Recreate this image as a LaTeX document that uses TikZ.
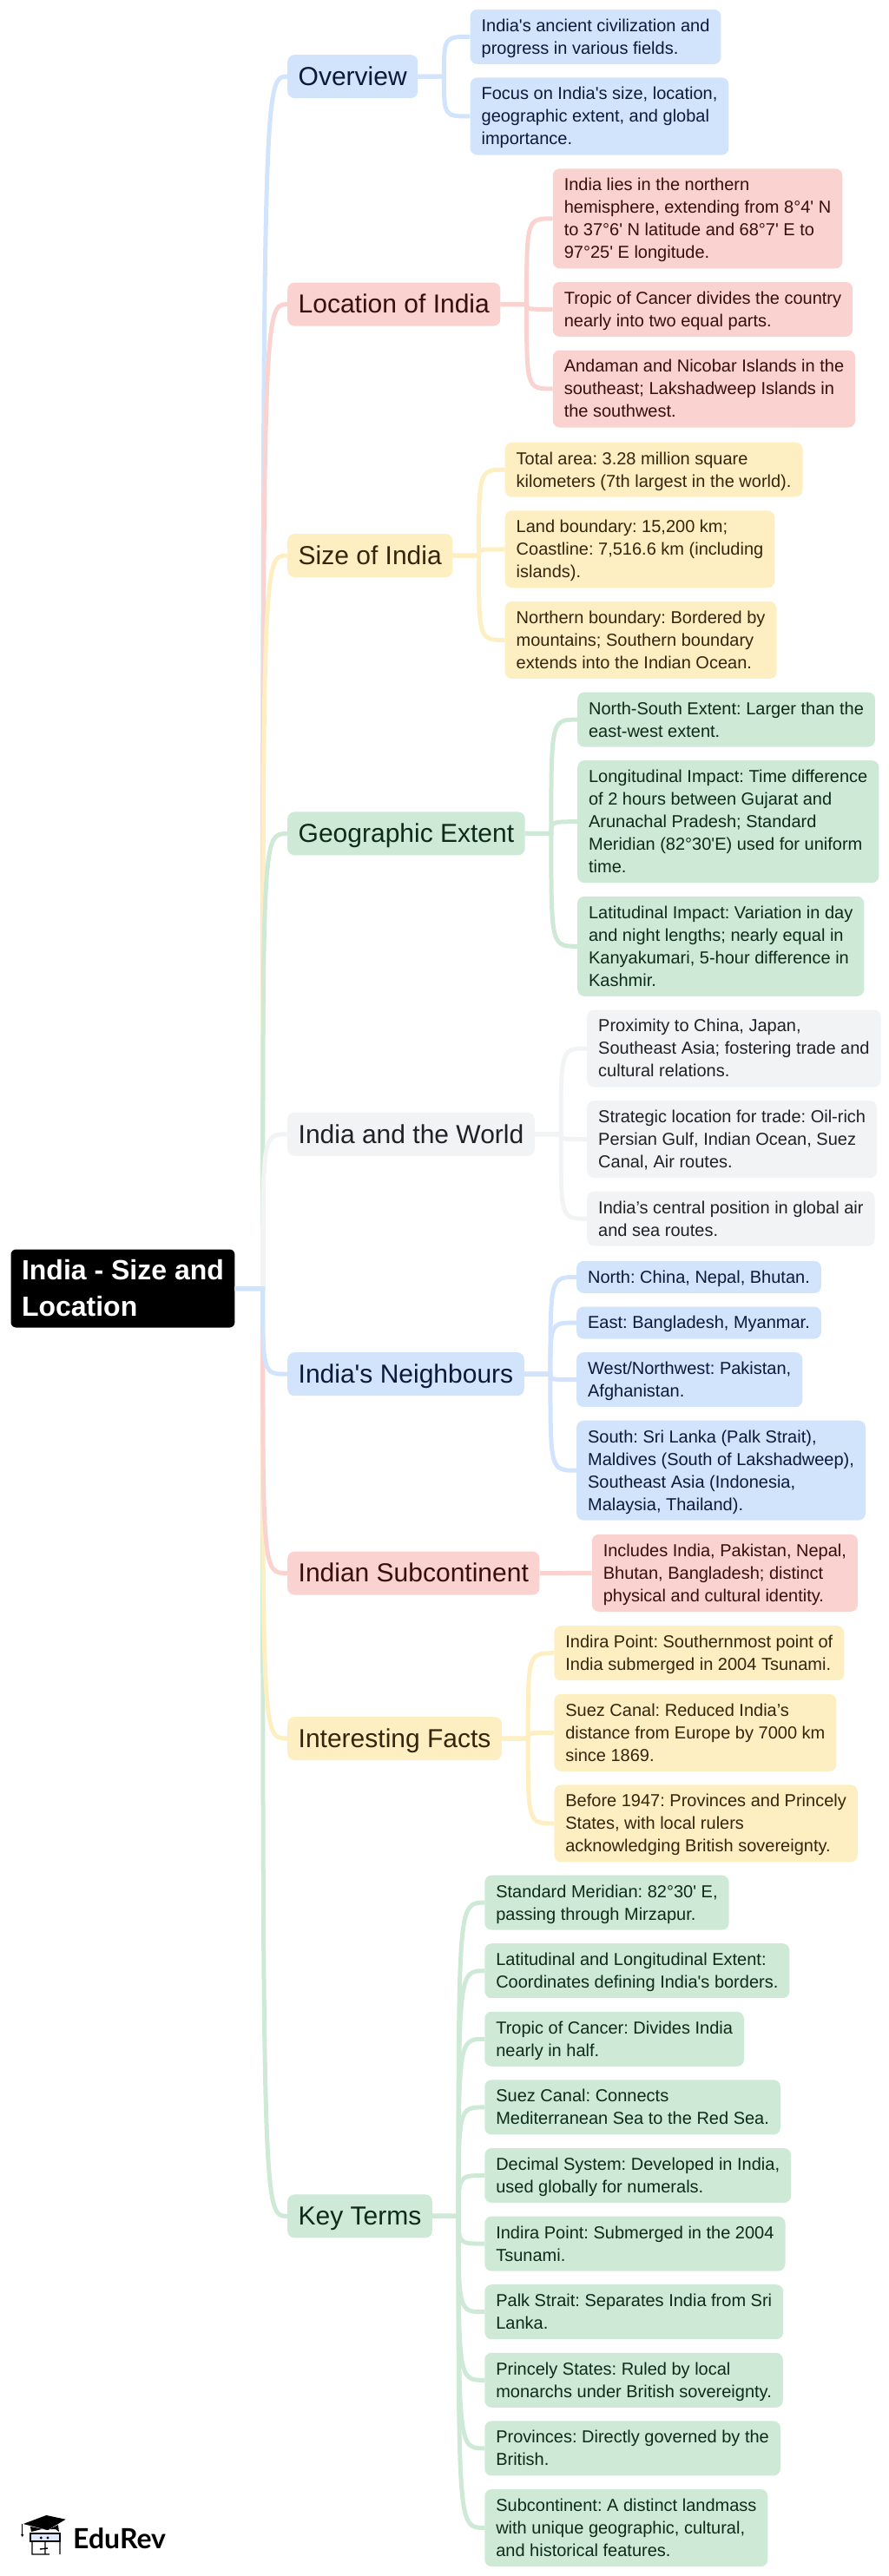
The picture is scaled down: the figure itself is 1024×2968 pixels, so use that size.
\documentclass[tikz,border=0pt]{standalone}
\usepackage{fontspec}
\setmainfont{Liberation Sans}[Ligatures=TeXOff]
\newfontfamily\logofont{Lato}
\usetikzlibrary{positioning}
\definecolor{mapblue}{HTML}{D2E3FC}
\definecolor{mapred}{HTML}{FAD2CF}
\definecolor{mapyellow}{HTML}{FEEFC3}
\definecolor{mapgreen}{HTML}{CEEAD6}
\definecolor{mapgrey}{HTML}{F1F3F4}
\definecolor{mapbluetext}{HTML}{0A1A3A}
\definecolor{mapredtext}{HTML}{3A0F0B}
\definecolor{mapyellowtext}{HTML}{33260A}
\definecolor{mapgreentext}{HTML}{0D2B18}
\definecolor{mapgreytext}{HTML}{202124}
\newcommand{\mapstrut}{\vrule height .766\baselineskip depth .234\baselineskip width 0pt}
\newcommand{\ml}[1]{\mapstrut#1\mapstrut}
\tikzset{
    x=1pt,
    y=1pt,
    mapbox/.style={
        rounded corners=8pt,
        align=left,
        inner xsep=13pt,
        inner ysep=5.5pt,
    },
    maproot/.style={
        mapbox,
        rounded corners=6pt,
        fill=black,
        text=white,
        inner xsep=12.5pt,
        inner ysep=3.4pt,
        font=\fontsize{32}{41.6}\selectfont\bfseries,
    },
    maptopic/.style={
        mapbox,
        fill=#1,
        text=#1text,
        inner xsep=12.5pt,
        font=\fontsize{30}{39}\selectfont,
    },
    mapleaf/.style={
        mapbox,
        fill=#1,
        text=#1text,
        font=\fontsize{20}{26}\selectfont\frenchspacing,
    },
    maplink/.style={
        line width=5pt,
        to path={(\tikztostart.east) -- ++(#1,0) coordinate (mid)
            .. controls (mid |- \tikztotarget.west) .. (\tikztotarget.west)},
    },
    maplink/.default=30pt,
}

\begin{document}
\begin{tikzpicture}
    \useasboundingbox (0,0) rectangle (1024,-2968);

    \node[maproot, anchor=north west] (root) at (12.3,-1439.3) {\ml{India - Size and\\Location}};

    \node[maptopic=mapblue, anchor=north west] (overview) at (331,-63) {\ml{Overview}};
    \node[maptopic=mapred, below=212pt of overview.south west, anchor=north west] (location) {\ml{Location of India}};
    \node[maptopic=mapyellow, below=239pt of location.south west, anchor=north west] (sizeindia) {\ml{Size of India}};
    \node[maptopic=mapgreen, below=270pt of sizeindia.south west, anchor=north west] (extent) {\ml{Geographic Extent}};
    \node[maptopic=mapgrey, below=296pt of extent.south west, anchor=north west] (world) {\ml{India and the World}};
    \node[maptopic=mapblue, below=226pt of world.south west, anchor=north west] (neighbours) {\ml{India's Neighbours}};
    \node[maptopic=mapred, below=179pt of neighbours.south west, anchor=north west] (subcontinent) {\ml{Indian Subcontinent}};
    \node[maptopic=mapyellow, below=140pt of subcontinent.south west, anchor=north west] (facts) {\ml{Interesting Facts}};
    \node[maptopic=mapgreen, below=500pt of facts.south west, anchor=north west] (keyterms) {\ml{Key Terms}};

    \node[mapleaf=mapblue, right=60pt of overview.east, anchor=north west, yshift=77.5pt] (ov1) {\ml{India's ancient civilization and\\progress in various fields.}};
    \node[mapleaf=mapblue, below=15.2pt of ov1.south west, anchor=north west] (ov2) {\ml{Focus on India's size, location,\\geographic extent, and global\\importance.}};

    \node[mapleaf=mapred, right=60pt of location.east, anchor=north west, yshift=156.5pt] (lo1) {\ml{India lies in the northern\\hemisphere, extending from 8°4' N\\to 37°6' N latitude and 68°7' E to\\97°25' E longitude.}};
    \node[mapleaf=mapred, below=15.2pt of lo1.south west, anchor=north west] (lo2) {\ml{Tropic of Cancer divides the country\\nearly into two equal parts.}};
    \node[mapleaf=mapred, below=15.2pt of lo2.south west, anchor=north west] (lo3) {\ml{Andaman and Nicobar Islands in the\\southeast; Lakshadweep Islands in\\the southwest.}};

    \node[mapleaf=mapyellow, right=60pt of sizeindia.east, anchor=north west, yshift=130.5pt] (si1) {\ml{Total area: 3.28 million square\\kilometers (7th largest in the world).}};
    \node[mapleaf=mapyellow, below=15.2pt of si1.south west, anchor=north west] (si2) {\ml{Land boundary: 15,200 km;\\Coastline: 7,516.6 km (including\\islands).}};
    \node[mapleaf=mapyellow, below=15.2pt of si2.south west, anchor=north west] (si3) {\ml{Northern boundary: Bordered by\\mountains; Southern boundary\\extends into the Indian Ocean.}};

    \node[mapleaf=mapgreen, right=60pt of extent.east, anchor=north west, yshift=163pt] (ex1) {\ml{North-South Extent: Larger than the\\east-west extent.}};
    \node[mapleaf=mapgreen, below=15.2pt of ex1.south west, anchor=north west] (ex2) {\ml{Longitudinal Impact: Time difference\\of 2 hours between Gujarat and\\Arunachal Pradesh; Standard\\Meridian (82°30'E) used for uniform\\time.}};
    \node[mapleaf=mapgreen, below=15.2pt of ex2.south west, anchor=north west] (ex3) {\ml{Latitudinal Impact: Variation in day\\and night lengths; nearly equal in\\Kanyakumari, 5-hour difference in\\Kashmir.}};

    \node[mapleaf=mapgrey, right=60pt of world.east, anchor=north west, yshift=143.5pt] (wo1) {\ml{Proximity to China, Japan,\\Southeast Asia; fostering trade and\\cultural relations.}};
    \node[mapleaf=mapgrey, below=15.2pt of wo1.south west, anchor=north west] (wo2) {\ml{Strategic location for trade: Oil-rich\\Persian Gulf, Indian Ocean, Suez\\Canal, Air routes.}};
    \node[mapleaf=mapgrey, below=15.2pt of wo2.south west, anchor=north west] (wo3) {\ml{India’s central position in global air\\and sea routes.}};

    \node[mapleaf=mapblue, right=60pt of neighbours.east, anchor=north west, yshift=130.5pt] (ne1) {\ml{North: China, Nepal, Bhutan.}};
    \node[mapleaf=mapblue, below=15.2pt of ne1.south west, anchor=north west] (ne2) {\ml{East: Bangladesh, Myanmar.}};
    \node[mapleaf=mapblue, below=15.2pt of ne2.south west, anchor=north west] (ne3) {\ml{West/Northwest: Pakistan,\\Afghanistan.}};
    \node[mapleaf=mapblue, below=15.2pt of ne3.south west, anchor=north west] (ne4) {\ml{South: Sri Lanka (Palk Strait),\\Maldives (South of Lakshadweep),\\Southeast Asia (Indonesia,\\Malaysia, Thailand).}};

    \node[mapleaf=mapred, right=60pt of subcontinent.east, anchor=north west, yshift=45pt] (su1) {\ml{Includes India, Pakistan, Nepal,\\Bhutan, Bangladesh; distinct\\physical and cultural identity.}};

    \node[mapleaf=mapyellow, right=60pt of facts.east, anchor=north west, yshift=130pt] (fa1) {\ml{Indira Point: Southernmost point of\\India submerged in 2004 Tsunami.}};
    \node[mapleaf=mapyellow, below=15.2pt of fa1.south west, anchor=north west] (fa2) {\ml{Suez Canal: Reduced India’s\\distance from Europe by 7000 km\\since 1869.}};
    \node[mapleaf=mapyellow, below=15.2pt of fa2.south west, anchor=north west] (fa3) {\ml{Before 1947: Provinces and Princely\\States, with local rulers\\acknowledging British sovereignty.}};

    \node[mapleaf=mapgreen, right=60pt of keyterms.east, anchor=north west, yshift=393pt] (ke1) {\ml{Standard Meridian: 82°30' E,\\passing through Mirzapur.}};
    \node[mapleaf=mapgreen, below=15.2pt of ke1.south west, anchor=north west] (ke2) {\ml{Latitudinal and Longitudinal Extent:\\Coordinates defining India's borders.}};
    \node[mapleaf=mapgreen, below=15.2pt of ke2.south west, anchor=north west] (ke3) {\ml{Tropic of Cancer: Divides India\\nearly in half.}};
    \node[mapleaf=mapgreen, below=15.2pt of ke3.south west, anchor=north west] (ke4) {\ml{Suez Canal: Connects\\Mediterranean Sea to the Red Sea.}};
    \node[mapleaf=mapgreen, below=15.2pt of ke4.south west, anchor=north west] (ke5) {\ml{Decimal System: Developed in India,\\used globally for numerals.}};
    \node[mapleaf=mapgreen, below=15.2pt of ke5.south west, anchor=north west] (ke6) {\ml{Indira Point: Submerged in the 2004\\Tsunami.}};
    \node[mapleaf=mapgreen, below=15.2pt of ke6.south west, anchor=north west] (ke7) {\ml{Palk Strait: Separates India from Sri\\Lanka.}};
    \node[mapleaf=mapgreen, below=15.2pt of ke7.south west, anchor=north west] (ke8) {\ml{Princely States: Ruled by local\\monarchs under British sovereignty.}};
    \node[mapleaf=mapgreen, below=15.2pt of ke8.south west, anchor=north west] (ke9) {\ml{Provinces: Directly governed by the\\British.}};
    \node[mapleaf=mapgreen, below=15.2pt of ke9.south west, anchor=north west] (ke10) {\ml{Subcontinent: A distinct landmass\\with unique geographic, cultural,\\and historical features.}};

    \path[maplink=32pt, mapblue] (root) edge (overview);
    \path[maplink=32pt, mapred] (root) edge (location);
    \path[maplink=32pt, mapyellow] (root) edge (sizeindia);
    \path[maplink=32pt, mapgreen] (root) edge (extent);
    \path[maplink=32pt, mapgrey] (root) edge (world);
    \path[maplink=32pt, mapgreen] (root) edge (keyterms);
    \path[maplink=32pt, mapyellow] (root) edge (facts);
    \path[maplink=32pt, mapred] (root) edge (subcontinent);
    \path[maplink=32pt, mapblue] (root) edge (neighbours);

    \path[maplink, mapblue]
        (overview) edge (ov1)
            edge (ov2)
        (neighbours) edge (ne1)
            edge (ne2)
            edge (ne3)
            edge (ne4);
    \path[maplink, mapred]
        (location) edge (lo1)
            edge (lo2)
            edge (lo3)
        (subcontinent) edge (su1);
    \path[maplink, mapyellow]
        (sizeindia) edge (si1)
            edge (si2)
            edge (si3)
        (facts) edge (fa1)
            edge (fa2)
            edge (fa3);
    \path[maplink, mapgreen]
        (extent) edge (ex1)
            edge (ex2)
            edge (ex3)
        (keyterms) edge (ke1)
            edge (ke2)
            edge (ke3)
            edge (ke4)
            edge (ke5)
            edge (ke6)
            edge (ke7)
            edge (ke8)
            edge (ke9)
            edge (ke10);
    \path[maplink, mapgrey]
        (world) edge (wo1)
            edge (wo2)
            edge (wo3);

    \node[anchor=base west, inner sep=0pt, font=\fontsize{32}{32}\logofont\bfseries] (logotext) at (84,-2936) {EduRev};
    \fill (26.7,-2908) -- (53.3,-2898) -- (75.7,-2902.7) -- (55,-2915) -- cycle;
    \fill (35,-2911) -- (36,-2917) -- (48,-2914) -- (64,-2914) -- (68,-2917) -- (67,-2909) -- (55,-2915) -- cycle;
    \draw[line width=1pt] (25.7,-2908) -- (25.7,-2920);
    \fill (24,-2920) -- (27.4,-2920) -- (25.7,-2923) -- cycle;
    \draw[line width=1.4pt, fill=mapblue!70] (35,-2919) rectangle (69,-2928);
    \draw[line width=1.4pt] (37,-2928) -- (37,-2943) -- (57,-2943) (69,-2928) -- (69,-2943) (52,-2928) -- (52,-2943) (46,-2937) -- (55,-2936);
    \fill (47.3,-2924) circle (1.6pt) (55,-2924) circle (1.6pt);
\end{tikzpicture}
\end{document}
